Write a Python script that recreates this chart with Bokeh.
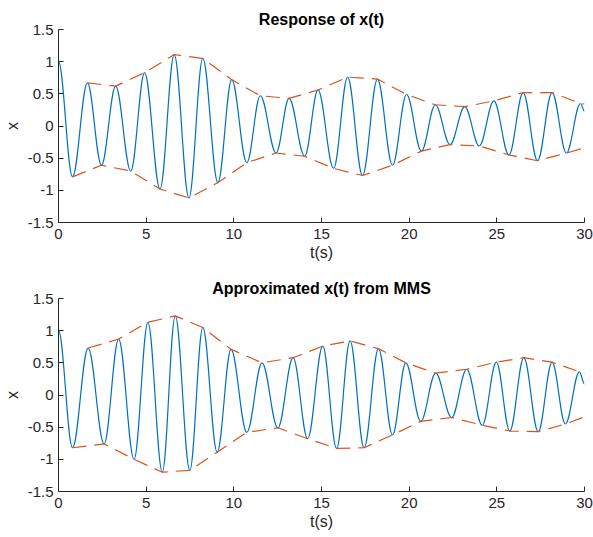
import numpy as np
from bokeh.plotting import figure
from bokeh.models import ColumnDataSource, FixedTicker
from bokeh.layouts import column
from bokeh.embed import file_html
from bokeh.resources import INLINE

# ---- data ----
# extrema (peak / trough) times and values of the simulated response
t_ext_top = [0, 0.80, 1.65, 2.45, 3.26, 4.12, 4.91, 5.79, 6.60, 7.44, 8.23, 9.09,
             9.88, 10.74, 11.51, 12.41, 13.15, 14.04, 14.80, 15.69, 16.49, 17.34,
             18.19, 19.05, 19.85, 20.70, 21.49, 22.33, 23.17, 24.00, 24.83, 25.69,
             26.50, 27.32, 28.15, 28.97, 29.77, 30]
x_ext_top = [1.0, -0.79, 0.67, -0.61, 0.62, -0.70, 0.83, -0.98, 1.11, -1.12, 1.05, -0.88,
             0.72, -0.57, 0.47, -0.42, 0.43, -0.47, 0.56, -0.66, 0.76, -0.77,
             0.73, -0.61, 0.49, -0.39, 0.33, -0.29, 0.30, -0.31, 0.39, -0.45,
             0.52, -0.54, 0.52, -0.42, 0.35, 0.23]
env_end_top = [0.34, -0.34]   # upper / lower envelope at t = 30

# extrema of the MMS approximation
t_ext_bot = [0, 0.80, 1.69, 2.60, 3.43, 4.31, 5.10, 5.92, 6.66, 7.49, 8.23, 9.05,
             9.84, 10.74, 11.61, 12.51, 13.38, 14.21, 15.07, 15.86, 16.63, 17.43,
             18.25, 19.05, 19.81, 20.66, 21.51, 22.42, 23.28, 24.17, 24.97, 25.74,
             26.54, 27.36, 28.15, 28.91, 29.71, 30]
x_ext_bot = [1.0, -0.82, 0.73, -0.76, 0.87, -1.00, 1.13, -1.20, 1.23, -1.17, 1.05, -0.89,
             0.71, -0.58, 0.50, -0.51, 0.58, -0.68, 0.76, -0.83, 0.84, -0.82,
             0.72, -0.62, 0.50, -0.41, 0.34, -0.35, 0.40, -0.47, 0.51, -0.56,
             0.58, -0.57, 0.51, -0.45, 0.36, 0.17]
env_end_bot = [0.33, -0.34]

x_ticks = [0, 5, 10, 15, 20, 25, 30]
x_tick_labels = ["0", "5", "10", "15", "20", "25", "30"]
y_ticks = [-1.5, -1, -0.5, 0, 0.5, 1, 1.5]
y_tick_labels = ["-1.5", "-1", "-0.5", "0", "0.5", "1", "1.5"]

titles = ["Response of x(t)", "Approximated x(t) from MMS"]
x_label = "t(s)"
y_label = "x"

BLUE = "#0072BD"
ORANGE = "#D95319"
AX = "#262626"
FONT = "Liberation Sans"


def make_plot(t_ext, x_ext, env_end, title, height, top, bottom):
    p = figure(width=593, height=height, x_range=(0, 30), y_range=(-1.5, 1.5),
               output_backend="svg", toolbar_location=None,
               min_border_left=57, min_border_right=9,
               min_border_top=top, min_border_bottom=bottom,
               title=title)
    p.outline_line_color = None
    p.grid.visible = False
    p.background_fill_color = "white"
    p.border_fill_color = "white"

    p.title.align = "center"
    p.title.text_font = FONT
    p.title.text_font_size = "16px"
    p.title.text_font_style = "bold"
    p.title.text_color = "#000000"
    p.title.standoff = 4

    for ax, ticks, labels in ((p.xaxis[0], x_ticks, x_tick_labels),
                              (p.yaxis[0], y_ticks, y_tick_labels)):
        ax.ticker = FixedTicker(ticks=ticks)
        ax.major_label_overrides = {v: s for v, s in zip(ticks, labels)}
        ax.major_tick_in = 5
        ax.major_tick_out = 0
        ax.minor_tick_line_color = None
        ax.axis_line_color = AX
        ax.major_tick_line_color = AX
        ax.major_label_text_color = AX
        ax.major_label_text_font = FONT
        ax.major_label_text_font_size = "15px"
        ax.axis_label_text_font = FONT
        ax.axis_label_text_font_size = "16px"
        ax.axis_label_text_font_style = "normal"
        ax.axis_label_text_color = AX
    p.xaxis.axis_label = x_label
    p.yaxis.axis_label = y_label
    p.xaxis.major_label_standoff = 6
    p.yaxis.major_label_standoff = 5
    p.xaxis.axis_label_standoff = 2
    p.yaxis.axis_label_standoff = 4

    # smooth oscillation: cubic Bezier between consecutive extrema
    t = np.array(t_ext, dtype=float)
    x = np.array(x_ext, dtype=float)
    k = 0.3643
    dt = t[1:] - t[:-1]
    src = ColumnDataSource(dict(
        x0=t[:-1], y0=x[:-1], x1=t[1:], y1=x[1:],
        cx0=t[:-1] + k * dt, cy0=x[:-1], cx1=t[1:] - k * dt, cy1=x[1:]))
    p.bezier(x0="x0", y0="y0", x1="x1", y1="y1", cx0="cx0", cy0="cy0",
             cx1="cx1", cy1="cy1", source=src, line_color=BLUE, line_width=1.2)

    # envelopes through the peaks / troughs
    inner_t = t[1:-1]
    inner_x = x[1:-1]
    up_t = list(inner_t[inner_x > 0]) + [30.0]
    up_x = list(inner_x[inner_x > 0]) + [env_end[0]]
    lo_t = list(inner_t[inner_x < 0]) + [30.0]
    lo_x = list(inner_x[inner_x < 0]) + [env_end[1]]
    p.line(up_t, up_x, line_color=ORANGE, line_width=1.2, line_dash="14 8")
    p.line(lo_t, lo_x, line_color=ORANGE, line_width=1.2, line_dash="14 8")
    return p


p1 = make_plot(t_ext_top, x_ext_top, env_end_top, titles[0], 268, 29, 46)
p2 = make_plot(t_ext_bot, x_ext_bot, env_end_bot, titles[1], 269, 30, 46)

layout = column(p1, p2, spacing=0)
open("out.html", "w").write(file_html(layout, INLINE))
